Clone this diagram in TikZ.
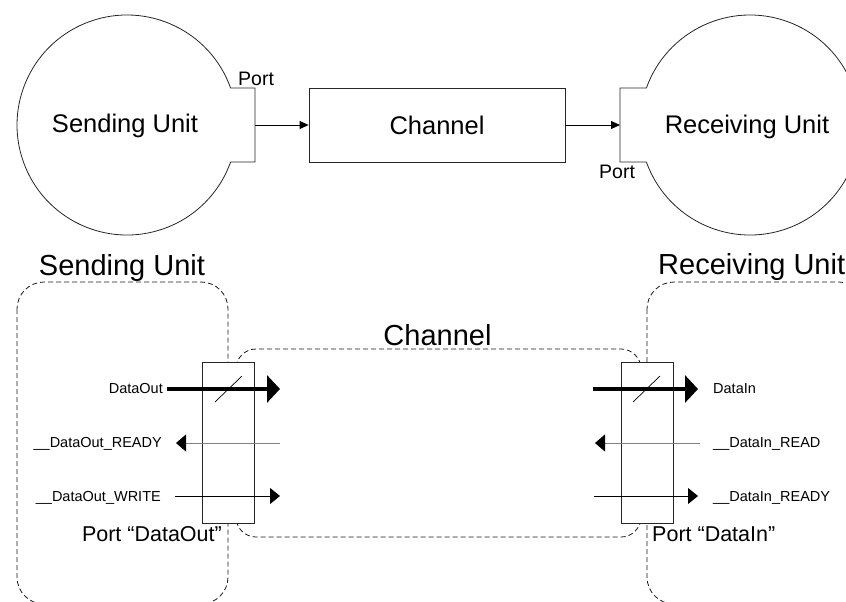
\documentclass[tikz,border=0pt]{standalone}
\usepackage{fontspec}
\setmainfont{Liberation Sans}
\usetikzlibrary{arrows.meta}
\begin{document}
\begin{tikzpicture}[x=1pt,y=-1pt,
  shapeline/.style={draw=black!85, line width=0.8pt},
  unitbox/.style={draw=black!90, dash pattern=on 5pt off 3pt, line width=0.8pt, rounded corners=27pt},
  chanbox/.style={draw=black!90, dash pattern=on 5pt off 3pt, line width=0.8pt, rounded corners=20pt},
  portbox/.style={draw=black!85, fill=white, line width=0.8pt},
  flow/.style={draw=black, line width=0.8pt, -{Triangle[length=9pt,width=8pt]}},
  bus/.style={draw=black, line width=4pt, -{Triangle[length=13pt,width=27pt]}},
  sig/.style={draw=black, line width=0.8pt, -{Triangle[length=10pt,width=16pt]}},
  siggray/.style={draw=black!50, line width=0.8pt, -{Triangle[length=10pt,width=17pt,color=black]}},
  slash/.style={draw=black, line width=0.7pt},
  small/.style={font=\fontsize{14.5}{17}\selectfont, inner sep=0pt},
  midtext/.style={font=\fontsize{25.5}{30}\selectfont, inner sep=0pt},
  bigtext/.style={font=\fontsize{29}{34}\selectfont, inner sep=0pt},
  porttext/.style={font=\fontsize{19.5}{23}\selectfont, inner sep=0pt},
  portname/.style={font=\fontsize{21.5}{25}\selectfont, inner sep=0pt}
]
\useasboundingbox (0,0) rectangle (846,602);
\clip (0,0) rectangle (846,602);

% ---------- top part ----------
\draw[shapeline] (230.6,88) arc[start angle=-19.66, end angle=-340.34, radius=110]
  -- (255,162) -- (255,88) -- cycle;
\draw[shapeline] (646.4,88) arc[start angle=-160.34, end angle=160.34, radius=110]
  -- (620,162) -- (620,88) -- cycle;
\coordinate (sp) at (255,125);
\coordinate (rp) at (620,125);
\node[midtext, anchor=base] (su) at (125,132) {Sending Unit};
\node[midtext, anchor=base] (ru) at (747,133) {Receiving Unit};
\node[porttext, anchor=base west] (spl) at (238,85) {Port};
\node[porttext, anchor=base west] (rpl) at (599,178.5) {Port};
\node[shapeline, minimum width=256pt, minimum height=74pt, midtext] (ch) at (437,125) {Channel};
\draw[flow] (sp) -- (ch.west);
\draw[flow] (ch.east) -- (rp);

% ---------- bottom part ----------
\node[bigtext, anchor=base] (sut) at (122,275) {Sending Unit};
\node[bigtext, anchor=base west] (rut) at (658,274) {Receiving Unit};
\node[bigtext, anchor=base] (cht) at (437.5,345) {Channel};

\draw[unitbox] (17,282) rectangle (228,604);
\draw[unitbox] (647,282) rectangle (866,604);
\draw[chanbox] (236,349) rectangle (641,537);

\node[portbox, minimum width=52pt, minimum height=161pt, inner sep=0pt] (pout) at (228,442.5) {};
\node[portbox, minimum width=52pt, minimum height=161pt, inner sep=0pt] (pin) at (647,442.5) {};

\node[portname, anchor=base east] (poutl) at (222,541.5) {Port “DataOut”};
\node[portname, anchor=base west] (pinl) at (652,541.5) {Port “DataIn”};

\node[small, anchor=base east] (lDO) at (163,393.5) {DataOut};
\node[small, anchor=base east] (lDOR) at (162,447.5) {\_\_DataOut\_READY};
\node[small, anchor=base east] (lDOW) at (161,501) {\_\_DataOut\_WRITE};
\node[small, anchor=base west] (lDI) at (713,393.5) {DataIn};
\node[small, anchor=base west] (lDIR) at (713,447.5) {\_\_DataIn\_READ};
\node[small, anchor=base west] (lDIY) at (713,501) {\_\_DataIn\_READY};

\coordinate (doS) at (167,389);   \coordinate (doT) at (280,389);
\coordinate (drS) at (280,443);   \coordinate (drT) at (176,443);
\coordinate (dwS) at (175,496);   \coordinate (dwT) at (280,496);
\coordinate (diS) at (593,389);   \coordinate (diT) at (698,389);
\coordinate (irS) at (700,443);   \coordinate (irT) at (595,443);
\coordinate (iyS) at (594,496);   \coordinate (iyT) at (698,496);

\draw[bus] (doS) -- (doT);
\draw[siggray] (drS) -- (drT);
\draw[sig] (dwS) -- (dwT);
\draw[bus] (diS) -- (diT);
\draw[siggray] (irS) -- (irT);
\draw[sig] (iyS) -- (iyT);

\draw[slash] (215,402) -- (242,376);
\draw[slash] (633,402) -- (660,376);
\end{tikzpicture}
\end{document}
